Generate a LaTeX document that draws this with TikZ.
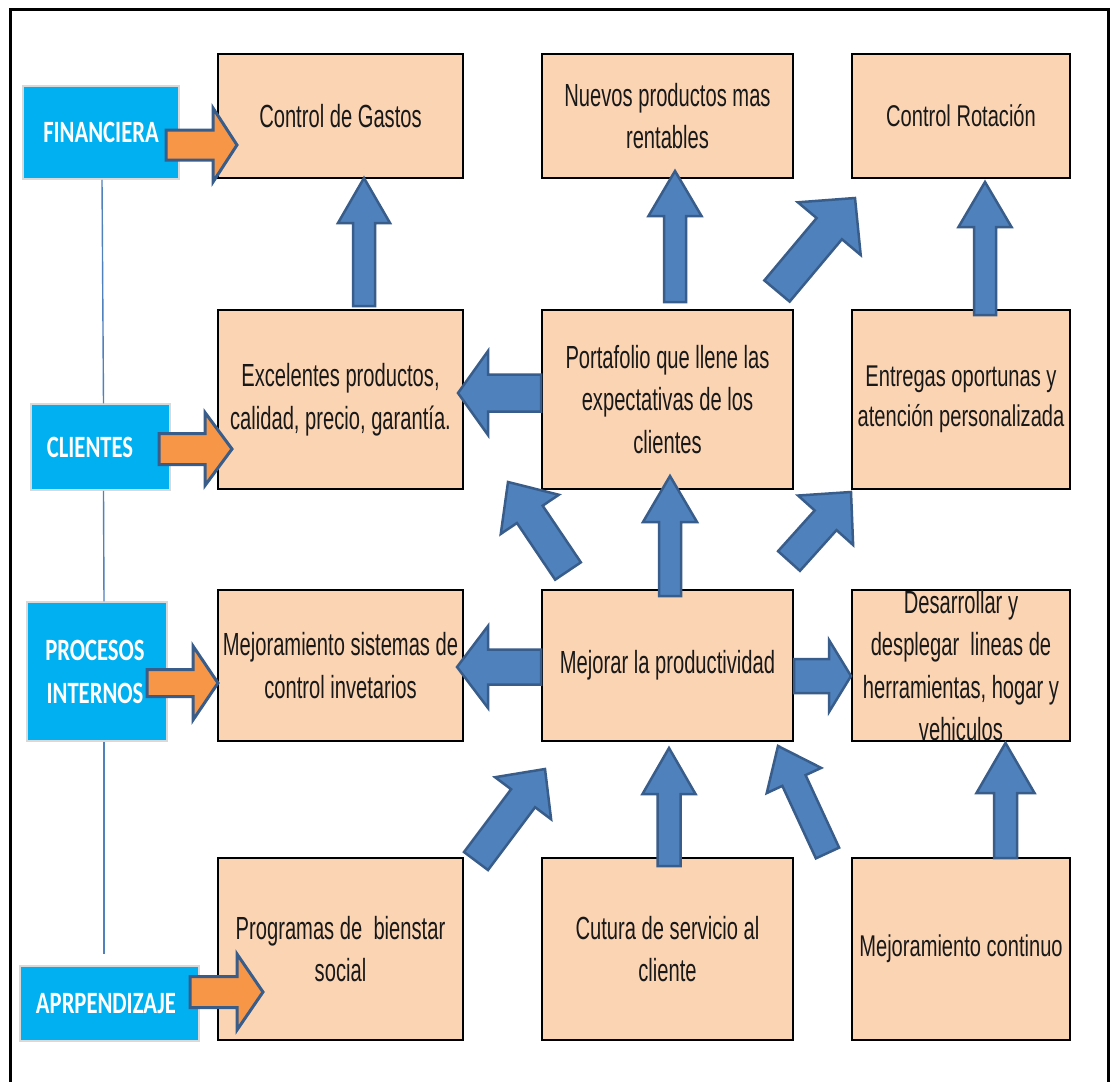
\documentclass[tikz,border=0pt]{standalone}
\usepackage{fontspec}
\setmainfont{Liberation Sans}
\newfontfamily\boxfont[FakeStretch=0.63]{Liberation Sans}
\newfontfamily\wideboxfont[FakeStretch=0.67]{Liberation Sans}
\newfontfamily\tagfont[FakeStretch=0.73]{Carlito}
\usetikzlibrary{calc}
\definecolor{peach}{HTML}{FBD4B4}
\definecolor{cyanbox}{HTML}{00B0F0}
\definecolor{arrowblue}{HTML}{4F81BD}
\definecolor{arrowedge}{HTML}{385D8A}
\definecolor{arroworange}{HTML}{F79646}

% block arrow: style, tail, tip, shaft half-width, head half-width, head length
\newcommand\blockarrow[6]{%
  \coordinate (ba-t) at #2;
  \coordinate (ba-h) at #3;
  \coordinate (ba-b) at ($(ba-h)!#6!(ba-t)$);
  \draw[#1] ($(ba-t)!#4!90:(ba-h)$) -- ($(ba-b)!#4!90:(ba-h)$)
    -- ($(ba-b)!#5!90:(ba-h)$) -- (ba-h) -- ($(ba-b)!#5!-90:(ba-h)$)
    -- ($(ba-b)!#4!-90:(ba-h)$) -- ($(ba-t)!#4!-90:(ba-h)$) -- cycle;
}

\begin{document}
\begin{tikzpicture}[x=1pt, y=-1pt,
  box/.style={draw=black, line width=1.6pt, fill=peach, inner sep=0pt,
    align=center, text=black!90, font=\boxfont\fontsize{32}{42.5}\selectfont},
  widebox/.style={box, font=\wideboxfont\fontsize{30}{40}\selectfont},
  tag/.style={draw=black!15, line width=1.5pt, fill=cyanbox, inner sep=0pt},
  tagtext/.style={text=white, align=center, inner sep=0pt,
    font=\tagfont\bfseries\fontsize{31}{43}\selectfont},
  bluearrow/.style={fill=arrowblue, draw=arrowedge, line width=2.5pt},
  orangearrow/.style={fill=arroworange, draw=arrowedge, line width=3pt},
  spine/.style={draw=arrowblue, line width=1.4pt},
  frame/.style={draw=black, line width=3pt}]

\useasboundingbox[fill=white] (0,0) rectangle (1117,1082);

% outer frame
\draw[frame] (10.5,1100) -- (10.5,9.5) -- (1108,9.5) -- (1108,1100);

% perspective tags on the left
\node[tag, minimum width=156pt, minimum height=93pt] (fin) at (101,132.5) {};
\node[tag, minimum width=139pt, minimum height=86pt] (cli) at (100.5,447) {};
\node[tag, minimum width=140pt, minimum height=139pt] (pro) at (97,671.5) {};
\node[tag, minimum width=179pt, minimum height=75pt] (apr) at (109.5,1003.5) {};

\node[tagtext] (fin-t) at (101,132) {FINANCIERA};
\node[tagtext] (cli-t) at (90,447) {CLIENTES};
\node[tagtext] (pro-t) at (95,671.5) {PROCESOS\\INTERNOS};
\node[tagtext] (apr-t) at (106,1004) {APRPENDIZAJE};

% thin line joining the tags
\draw[spine] ([xshift=1pt]fin.south) -- ([xshift=3pt]cli.north);
\draw[spine] ([xshift=3pt]cli.south) -- ([xshift=7pt]pro.north);
\draw[spine] ([xshift=7pt]pro.south) -- ([xshift=-5.5pt,yshift=11pt]apr.north);

% objective boxes
\node[box, minimum width=245pt, minimum height=124pt] (gastos) at (340.5,116) {Control de Gastos};
\node[box, minimum width=251pt, minimum height=124pt] (nuevos) at (667.5,116) {Nuevos productos mas\\rentables};
\node[widebox, minimum width=218pt, minimum height=124pt] (rotacion) at (961,116) {Control Rotación};

\node[box, minimum width=245pt, minimum height=179pt] (excelentes) at (340.5,399.5) {Excelentes productos,\\calidad, precio, garantía.};
\node[box, minimum width=251pt, minimum height=179pt] (portafolio) at (667.5,399.5) {Portafolio que llene las\\expectativas de los\\clientes};
\node[widebox, minimum width=218pt, minimum height=179pt] (entregas) at (961,399.5) {Entregas oportunas y\\atención personalizada};

\node[box, minimum width=245pt, minimum height=151pt] (sistemas) at (340.5,665.5) {Mejoramiento sistemas de\\control invetarios};
\node[box, minimum width=251pt, minimum height=151pt] (productividad) at (667.5,665.5) {Mejorar la productividad};
\node[box, minimum width=218pt, minimum height=151pt] (desarrollar) at (961,665.5) {Desarrollar y\\desplegar\ \ lineas de\\herramientas, hogar y\\vehiculos};

\node[box, minimum width=245pt, minimum height=182pt] (bienestar) at (340.5,949) {Programas de\ \ bienstar\\social};
\node[box, minimum width=251pt, minimum height=182pt] (cultura) at (667.5,949) {Cutura de servicio al\\cliente};
\node[widebox, minimum width=218pt, minimum height=182pt] (continuo) at (961,949) {Mejoramiento continuo};

% orange arrows from the tags
\blockarrow{orangearrow}{(166,145)}{(237,145)}{15pt}{37pt}{24pt}
\blockarrow{orangearrow}{(159,449)}{(232,449)}{15.5pt}{36.5pt}{27pt}
\blockarrow{orangearrow}{(147,683)}{(218,683)}{13.5pt}{37pt}{25pt}
\blockarrow{orangearrow}{(190,992)}{(263,992)}{15.5pt}{38pt}{26pt}

% blue arrows between objectives
\blockarrow{bluearrow}{(364,306)}{(364,178)}{11pt}{26pt}{45pt}
\blockarrow{bluearrow}{(675,302)}{(675,171)}{11pt}{26.5pt}{45pt}
\blockarrow{bluearrow}{(777,291)}{(855,198)}{16.5pt}{41pt}{40pt}
\blockarrow{bluearrow}{(985,315)}{(985,182)}{11pt}{26.5pt}{45pt}
\blockarrow{bluearrow}{(541,393)}{(458,393)}{18.5pt}{42pt}{30pt}
\blockarrow{bluearrow}{(670,596)}{(670,476)}{11pt}{27pt}{46pt}
\blockarrow{bluearrow}{(568,571)}{(508,482)}{15.5pt}{35pt}{39pt}
\blockarrow{bluearrow}{(789,561)}{(851,492)}{14.7pt}{37pt}{38pt}
\blockarrow{bluearrow}{(541,667)}{(457,667)}{17.5pt}{41pt}{31pt}
\blockarrow{bluearrow}{(794,676)}{(851,676)}{17pt}{36pt}{22pt}
\blockarrow{bluearrow}{(476,861)}{(545,769)}{15pt}{35pt}{36.5pt}
\blockarrow{bluearrow}{(669,866)}{(669,748)}{11.5pt}{26.5pt}{46pt}
\blockarrow{bluearrow}{(827.5,853)}{(778,746)}{12.8pt}{30pt}{38pt}
\blockarrow{bluearrow}{(1005.5,858)}{(1005.5,743)}{11.5pt}{29pt}{50pt}

\end{tikzpicture}
\end{document}
